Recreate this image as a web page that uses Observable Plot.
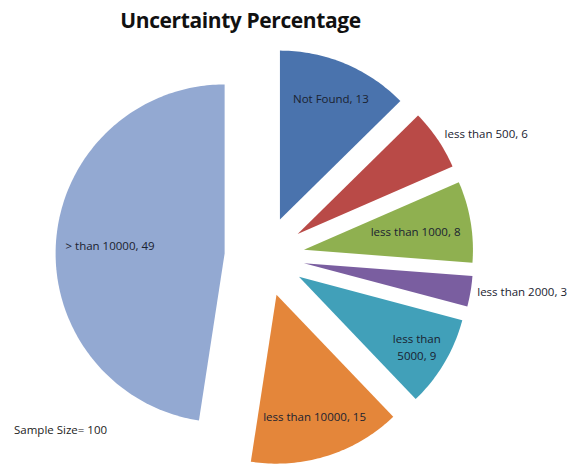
<!DOCTYPE html>
<html>
<head>
<meta charset="utf-8">
<script src="https://cdn.jsdelivr.net/npm/d3@7"></script>
<script src="https://cdn.jsdelivr.net/npm/@observablehq/plot@0.6"></script>
<style>
  html, body { margin: 0; padding: 0; background: #fff; }
  #wrap { position: relative; width: 574px; height: 464px; overflow: hidden; font-family: "Open Sans", "Liberation Sans", sans-serif; }
  #title { position: absolute; left: 0; top: 6px; width: 481px; text-align: center; font-weight: bold; font-size: 21px; color: #111; letter-spacing: -0.4px; }
  #note { position: absolute; left: 14px; top: 422px; font-size: 11.5px; color: #222; }
  #chart { position: absolute; left: 0; top: 40px; }
</style>
</head>
<body>
<div id="wrap">
  <div id="title">Uncertainty Percentage</div>
  <div id="chart"></div>
  <div id="note">Sample Size= 100</div>
</div>
<script>
// ---- data ----
const categories = ["Not Found", "less than 500", "less than 1000", "less than 2000", "less than 5000", "less than 10000", "> than 10000"];
const values = [13, 6, 8, 3, 9, 15, 49];
const labelTexts = ["Not Found, 13", "less than 500, 6", "less than 1000, 8", "less than 2000, 3", "less than\n5000, 9", "less than 10000, 15", "> than 10000, 49"];
const colors = ["#4a73ad", "#b94a47", "#8fb050", "#7a5ea0", "#41a0b9", "#e4863a", "#93a9d2"];
// label placement: radial fraction of radius, and whether outside (start-anchored)
const labelRadius = [0.78, 1.05, 0.67, 1.04, 0.81, 0.75, 0.68];
const labelOutside = [false, true, false, true, false, false, false];

// ---- layout ----
const W = 574, H = 424;
const R = 169;          // pixel radius
const cxPx = 264, cyPx = 216;
const explode = 40 / R; // explosion in radius units

const pie = d3.pie().sort(null).value(d => d)(values);

const polys = [];
const labels = [];
pie.forEach((p, i) => {
  const mid = (p.startAngle + p.endAngle) / 2;
  const ox = explode * Math.sin(mid), oy = explode * Math.cos(mid);
  polys.push({k: categories[i], x: ox, y: oy});
  const n = Math.max(4, Math.ceil((p.endAngle - p.startAngle) / (Math.PI / 180)));
  for (let j = 0; j <= n; j++) {
    const a = p.startAngle + (p.endAngle - p.startAngle) * j / n;
    polys.push({k: categories[i], x: ox + Math.sin(a), y: oy + Math.cos(a)});
  }
  const lr = labelRadius[i];
  labels.push({
    k: categories[i],
    text: labelTexts[i],
    x: ox + lr * Math.sin(mid),
    y: oy + lr * Math.cos(mid),
    anchor: labelOutside[i] ? "start" : "middle"
  });
});

const xDomain = [-cxPx / R, (W - cxPx) / R];
const yDomain = [-(H - cyPx) / R, cyPx / R];

const plot = Plot.plot({
  width: W,
  height: H,
  margin: 0,
  x: {domain: xDomain, axis: null},
  y: {domain: yDomain, axis: null},
  color: {domain: categories, range: colors},
  style: {fontFamily: "'Open Sans', 'Liberation Sans', sans-serif", background: "transparent"},
  marks: [
    Plot.line(polys, {x: "x", y: "y", z: "k", fill: "k", stroke: "none", curve: "linear-closed"}),
    Plot.text(labels.filter(d => d.anchor === "middle"), {x: "x", y: "y", text: "text", textAnchor: "middle", fontSize: 11.5, fill: "#1a2230", lineHeight: 1.45}),
    Plot.text(labels.filter(d => d.anchor === "start"), {x: "x", y: "y", text: "text", textAnchor: "start", fontSize: 11.5, fill: "#1a2230"})
  ]
});
document.getElementById("chart").appendChild(plot);
</script>
</body>
</html>
